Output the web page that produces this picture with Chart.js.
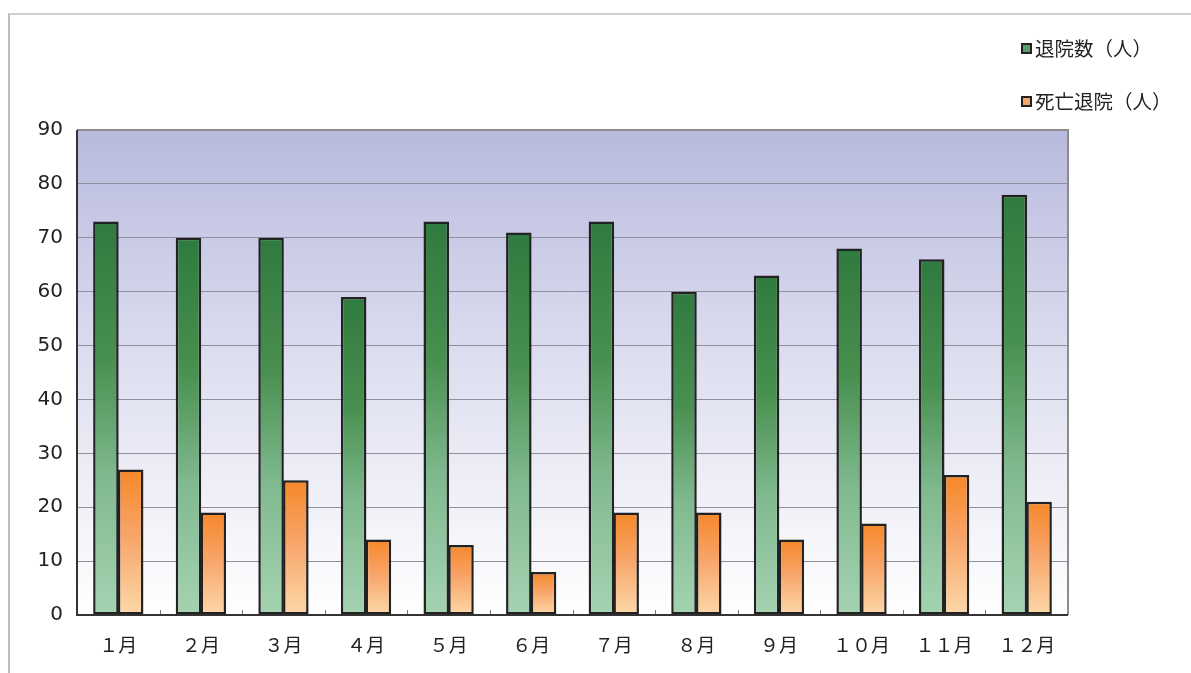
<!DOCTYPE html>
<html>
<head>
<meta charset="utf-8">
<script src="https://cdn.jsdelivr.net/npm/chart.js@4/dist/chart.umd.min.js"></script>
<style>
  html, body { margin: 0; padding: 0; background: #fff; }
  #wrap { position: relative; width: 1191px; height: 673px; overflow: hidden; }
  #frame { position: absolute; left: 8px; top: 13px; right: -4px; bottom: -4px;
    border-top: 2px solid #cfcfcf; border-left: 2px solid #bdbdbd; }
  #chart { position: absolute; left: 0; top: 0; }
  .legend { position: absolute; left: 1021px; font: 19.5px "Noto Sans CJK JP", sans-serif; color: #222; white-space: nowrap; }
  .legend span { display: inline-block; width: 7px; height: 7px; border: 2px solid #222; margin-right: 3px; vertical-align: 2px; }
</style>
</head>
<body>
<div id="wrap">
  <div id="frame"></div>
  <canvas id="chart" width="1191" height="673"></canvas>
  <div class="legend" style="top:33px"><span style="background:#5f9c6c"></span>退院数（人）</div>
  <div class="legend" style="top:86px"><span style="background:#f6a467"></span>死亡退院（人）</div>
</div>
<script>
const months = ["１月", "２月", "３月", "４月", "５月", "６月", "７月", "８月", "９月", "１０月", "１１月", "１２月"];
const discharged = [73, 70, 70, 59, 73, 71, 73, 60, 63, 68, 66, 78];
const deathDischarged = [27, 19, 25, 14, 13, 8, 19, 19, 14, 17, 26, 21];
const yTicks = [0, 10, 20, 30, 40, 50, 60, 70, 80, 90];

function barGradient(ctx, stops) {
  const chart = ctx.chart;
  const yScale = chart.scales.y;
  if (!yScale || ctx.parsed === undefined) return stops[0][1];
  const top = yScale.getPixelForValue(ctx.parsed.y);
  const bottom = yScale.getPixelForValue(0);
  if (!isFinite(top) || top === bottom) return stops[0][1];
  const g = chart.ctx.createLinearGradient(0, top, 0, bottom);
  for (const [pos, color] of stops) g.addColorStop(pos, color);
  return g;
}

const plotBackground = {
  id: "plotBackground",
  beforeDraw(chart) {
    const { ctx, chartArea: a } = chart;
    const g = ctx.createLinearGradient(0, a.top, 0, a.bottom);
    g.addColorStop(0, "#b8bade");
    g.addColorStop(0.5, "#dfe0f0");
    g.addColorStop(1, "#ffffff");
    ctx.save();
    ctx.fillStyle = g;
    ctx.fillRect(a.left, a.top, a.right - a.left, a.bottom - a.top);
    ctx.restore();
  },
  afterDatasetsDraw(chart) {
    const { ctx, chartArea: a } = chart;
    ctx.save();
    // plot frame
    ctx.strokeStyle = "#8c8c8c";
    ctx.lineWidth = 2;
    ctx.beginPath();
    ctx.moveTo(a.left, a.top);
    ctx.lineTo(a.right, a.top);
    ctx.lineTo(a.right, a.bottom);
    ctx.stroke();
    // small category ticks inside the plot
    ctx.strokeStyle = "#777";
    ctx.lineWidth = 1;
    const step = (a.right - a.left) / months.length;
    for (let i = 1; i < months.length; i++) {
      const x = Math.round(a.left + step * i) + 0.5;
      ctx.beginPath();
      ctx.moveTo(x, a.bottom);
      ctx.lineTo(x, a.bottom - 5);
      ctx.stroke();
    }
    // axes
    ctx.strokeStyle = "#333";
    ctx.lineWidth = 2;
    ctx.beginPath();
    ctx.moveTo(a.left, a.top);
    ctx.lineTo(a.left, a.bottom);
    ctx.lineTo(a.right, a.bottom);
    ctx.stroke();
    ctx.restore();
  }
};

new Chart(document.getElementById("chart"), {
  type: "bar",
  data: {
    labels: months,
    datasets: [
      {
        label: "退院数（人）",
        data: discharged,
        backgroundColor: (ctx) => barGradient(ctx, [[0, "#2f7a3e"], [0.35, "#48904f"], [0.65, "#80b98f"], [1, "#a5d3b2"]]),
        borderColor: "#222",
        borderWidth: 2.5,
        borderSkipped: false,
      },
      {
        label: "死亡退院（人）",
        data: deathDischarged,
        backgroundColor: (ctx) => barGradient(ctx, [[0, "#f6882a"], [0.45, "#f8a468"], [1, "#fcd8a8"]]),
        borderColor: "#222",
        borderWidth: 2.5,
        borderSkipped: false,
      },
    ],
  },
  options: {
    responsive: false,
    animation: false,
    layout: { padding: { top: 130, right: 123, left: 0, bottom: 0 } },
    plugins: { legend: { display: false }, tooltip: { enabled: false } },
    datasets: { bar: { categoryPercentage: 0.6, barPercentage: 1.03 } },
    scales: {
      x: {
        grid: { display: false },
        border: { display: false },
        ticks: { color: "#222", padding: 10, font: { family: "'Noto Sans CJK JP', sans-serif", size: 19 } },
        afterFit(scale) { scale.height = 58; },
      },
      y: {
        min: 0,
        max: 90,
        afterBuildTicks(scale) { scale.ticks = yTicks.map((v) => ({ value: v })); },
        grid: { color: "#8f8fa0", lineWidth: 1, drawTicks: false },
        border: { display: false },
        ticks: { color: "#222", padding: 14, font: { family: "'DejaVu Sans', sans-serif", size: 20 } },
        afterFit(scale) { scale.width = 77; },
      },
    },
  },
  plugins: [plotBackground],
});
</script>
</body>
</html>
